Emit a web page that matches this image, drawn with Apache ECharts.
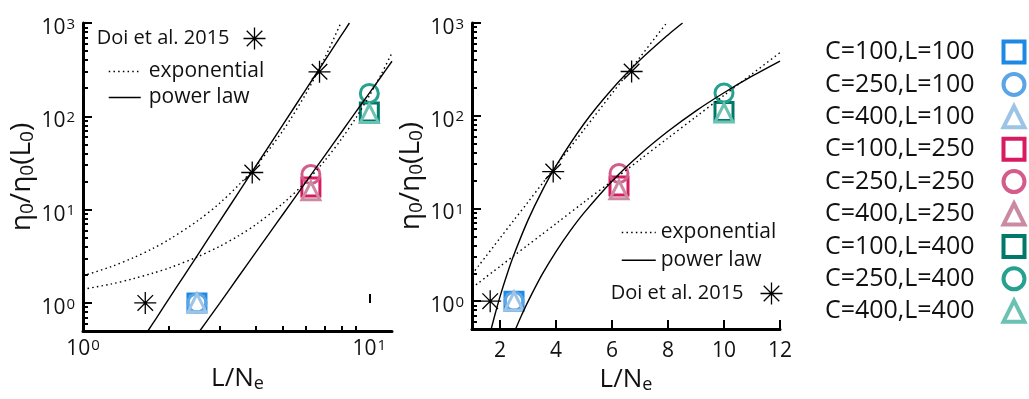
<!DOCTYPE html>
<html><head><meta charset="utf-8">
<script src="https://cdn.jsdelivr.net/npm/echarts@6/dist/echarts.min.js"></script>
<style>html,body{margin:0;padding:0;background:#fff;}#c{width:1029px;height:399px;}</style>
</head><body><div id="c"></div>
<script>
// ---------- data ----------
const doiX = [1.65, 3.9, 6.7];
const doiY = [1.0, 25, 300];

const simX = [2.5, 6.25, 10];          // L/Ne for L = 100, 250, 400
const simC = [100, 250, 400];
const simL = [100, 250, 400];
const simC100 = [1, 17.5, 111];
const simC250 = [1, 23.8, 176];
const simC400 = [1, 15.9, 107];

const doiExpX = [1, 1.25, 1.5, 1.75, 2, 2.5, 3, 3.5, 4, 5, 6, 7, 7.95];
const doiExpY = [1.95, 2.44, 3.05, 3.82, 4.79, 7.5, 11.7, 18.4, 28.8, 70.8, 174, 427, 1000];
const simExpX = [1, 1.25, 1.5, 1.75, 2, 2.5, 3, 3.5, 4, 5, 6, 7, 8, 9, 10, 11, 12];
const simExpY = [1.40, 1.59, 1.82, 2.08, 2.37, 3.10, 4.04, 5.26, 6.86, 11.7, 19.8, 33.7, 57.4, 97.5, 166, 282, 479];
const doiPowX = [1.685, 1.8, 2, 2.25, 2.5, 3, 3.5, 4, 5, 6, 7, 8, 8.52];
const doiPowY = [0.5, 0.68, 1.12, 1.94, 3.18, 7.48, 15.4, 28.8, 82, 193, 398, 744, 1000];
const simPowX = [2.557, 2.75, 3, 3.5, 4, 4.5, 5, 6, 7, 8, 9, 10, 11, 12];
const simPowY = [0.5, 0.684, 0.99, 1.93, 3.43, 5.70, 8.97, 19.7, 38.2, 67.9, 113, 177, 267, 389];

const yMinorTicks = [0.6, 0.7, 0.8, 0.9, 2, 3, 4, 5, 6, 7, 8, 9, 20, 30, 40, 50, 60, 70, 80, 90, 200, 300, 400, 500, 600, 700, 800, 900];
const xLogMajorTicks = [1, 10];
const xLogMinorTicks = [2, 3, 4, 5, 6, 7, 8, 9];
const xLinTicks = [2, 4, 6, 8, 10, 12];

// axis ranges
const Y_MIN = 0.5, Y_MAX = 1000, X_MIN = 1, X_MAX = 12;

// ---------- styling ----------
const FONT = '"Open Sans", sans-serif';
const TXT = '#111';
const simY = [simC100, simC250, simC400];
const SYMS = ['rect', 'circle', 'triangle'];
const COLORS = [
  ['#1E88E5', '#5AA5E6', '#9DC3E6'],
  ['#D81B60', '#D35C8A', '#C98AA2'],
  ['#00796B', '#26A08F', '#6CC2B2']
];
const STAR = 'path://M10,0L10,20M0,10L20,10M2.93,2.93L17.07,17.07M2.93,17.07L17.07,2.93';
const zip = (xs, ys) => xs.map((x, i) => [x, ys[i]]);
const simNames = [];
simL.forEach(L => simC.forEach(C => simNames.push('C=' + C + ',L=' + L)));

function powLabel(v) {
  const e = Math.log10(v), r = Math.round(e);
  if (Math.abs(e - r) > 1e-6) return '';
  return '{b|10}{s|' + r + '}';
}
const powRich = {
  b: { fontSize: 21, fontFamily: FONT, color: TXT, lineHeight: 22, padding: [10, 0, 0, 0] },
  s: { fontSize: 15, fontFamily: FONT, color: TXT, lineHeight: 16, padding: [5, 0, 0, 1], verticalAlign: 'top' }
};
const axisLine = { show: true, onZero: false, lineStyle: { color: '#000', width: 3 } };
const majorTick = { show: true, inside: true, length: 9, lineStyle: { color: '#000', width: 2 } };
const xName = '{n|L/N}{s|e}';
const xNameStyle = { rich: {
  n: { fontSize: 26, fontFamily: FONT, color: TXT, lineHeight: 30 },
  s: { fontSize: 18, fontFamily: FONT, color: TXT, lineHeight: 18, padding: [10, 0, 0, 0] } } };
const yName = '{n|η}{s|0}{n|/η}{s|0}{n|(L}{s|0}{n|)}';
const yNameStyle = { rich: {
  n: { fontSize: 28, fontFamily: FONT, color: TXT, lineHeight: 34 },
  s: { fontSize: 19, fontFamily: FONT, color: TXT, lineHeight: 18, padding: [12, 0, 0, 0] } } };

function yAxisDef(g) {
  return {
    gridIndex: g, type: 'log', logBase: 10, min: Y_MIN, max: Y_MAX,
    axisLine: axisLine, axisTick: majorTick, splitLine: { show: false },
    axisLabel: { formatter: powLabel, rich: powRich, margin: 8 },
    name: yName, nameLocation: 'middle', nameGap: 42, nameTextStyle: yNameStyle
  };
}
// Tick-only overlay axes: a linear axis over the decades of the log axis,
// lying exactly on it, carries the tick marks between the powers of ten.
function tickAxis(g, pos, lo, hi, ticks, len) {
  return {
    gridIndex: g, type: 'value', position: pos, offset: 0,
    min: Math.log10(lo), max: Math.log10(hi),
    axisLine: { show: false }, axisLabel: { show: false }, splitLine: { show: false },
    axisPointer: { show: false }, silent: true,
    axisTick: { show: true, inside: true, length: len, customValues: ticks.map(v => Math.log10(v)),
                lineStyle: { color: '#000', width: 2 } }
  };
}

const series = [];
for (let g = 0; g < 2; g++) {
  simL.forEach((L, j) => simC.forEach((C, i) => {
    series.push({
      type: 'scatter', name: 'C=' + C + ',L=' + L, xAxisIndex: g, yAxisIndex: g,
      data: [[simX[j], simY[i][j]]], symbol: SYMS[i], symbolSize: 18,
      itemStyle: { color: 'none', borderColor: COLORS[j][i], borderWidth: 3, opacity: 1 },
      emphasis: { disabled: true }, z: 2
    });
  }));
  const lineBase = { type: 'line', xAxisIndex: g, yAxisIndex: g, symbol: 'none', smooth: 0.3,
                     emphasis: { disabled: true }, z: 3 };
  const dotted = { color: '#000', width: 1.4, type: [1.5, 3.2] };
  const solid = { color: '#000', width: 1.4 };
  series.push(Object.assign({}, lineBase, { name: 'exponential', data: zip(doiExpX, doiExpY), lineStyle: dotted }));
  series.push(Object.assign({}, lineBase, { name: 'exponential', data: zip(simExpX, simExpY), lineStyle: dotted }));
  series.push(Object.assign({}, lineBase, { name: 'power law', data: zip(doiPowX, doiPowY), lineStyle: solid }));
  series.push(Object.assign({}, lineBase, { name: 'power law', data: zip(simPowX, simPowY), lineStyle: solid }));
  series.push({
    type: 'scatter', name: 'Doi et al. 2015', xAxisIndex: g, yAxisIndex: g,
    data: zip(doiX, doiY), symbol: STAR, symbolSize: 22,
    itemStyle: { color: 'none', borderColor: '#000', borderWidth: 1.3, opacity: 1 },
    emphasis: { disabled: true }, z: 4
  });
}

const legText = (size, pad) => ({ fontFamily: FONT, fontSize: size, color: TXT, padding: pad });

const option = {
  animation: false,
  backgroundColor: '#fff',
  grid: [
    { left: 83, top: 23, width: 309, height: 308 },
    { left: 472, top: 23, width: 308, height: 308 }
  ],
  xAxis: [
    { gridIndex: 0, type: 'log', logBase: 10, min: X_MIN, max: X_MAX, position: 'bottom',
      axisLine: axisLine, axisTick: { show: false }, splitLine: { show: false },
      axisLabel: { formatter: powLabel, rich: powRich, margin: 2 },
      name: xName, nameLocation: 'middle', nameGap: 33, nameTextStyle: xNameStyle },
    { gridIndex: 1, type: 'value', min: X_MIN, max: X_MAX, position: 'bottom',
      axisLine: axisLine, splitLine: { show: false },
      axisTick: Object.assign({ customValues: xLinTicks }, majorTick),
      axisLabel: { customValues: xLinTicks, fontSize: 21, fontFamily: FONT, color: TXT, margin: 11 },
      name: xName, nameLocation: 'middle', nameGap: 33, nameTextStyle: xNameStyle },
    tickAxis(0, 'bottom', X_MIN, X_MAX, xLogMajorTicks, 9),
    tickAxis(0, 'bottom', X_MIN, X_MAX, xLogMinorTicks, 5)
  ],
  yAxis: [
    Object.assign(yAxisDef(0), { position: 'left' }),
    Object.assign(yAxisDef(1), { position: 'left' }),
    tickAxis(0, 'left', Y_MIN, Y_MAX, yMinorTicks, 5),
    tickAxis(1, 'left', Y_MIN, Y_MAX, yMinorTicks, 5)
  ],
  legend: [
    { data: ['Doi et al. 2015'], orient: 'horizontal', align: 'right', right: 761, top: 25, padding: 0,
      itemWidth: 22, itemHeight: 22, selectedMode: false,
      itemStyle: { borderWidth: 1.3 }, textStyle: legText(20, [0, 9, 0, 0]) },
    { data: ['exponential', 'power law'], orient: 'vertical', align: 'left', left: 108, top: 61, padding: 0,
      itemWidth: 32, itemHeight: 14, itemGap: 5, selectedMode: false,
      itemStyle: { opacity: 0 }, lineStyle: { width: 1.5 }, textStyle: legText(21, [0, 0, 0, 3]) },
    { data: ['exponential', 'power law'], orient: 'vertical', align: 'left', left: 621, top: 222, padding: 0,
      itemWidth: 34, itemHeight: 14, itemGap: 6.7, selectedMode: false,
      itemStyle: { opacity: 0 }, lineStyle: { width: 1.5 }, textStyle: legText(21, [0, 0, 0, 0]) },
    { data: ['Doi et al. 2015'], orient: 'horizontal', align: 'right', right: 244, top: 280, padding: 0,
      itemWidth: 22, itemHeight: 22, selectedMode: false,
      itemStyle: { borderWidth: 1.3 }, textStyle: legText(20, [0, 12, 0, 0]) },
    { data: simNames, orient: 'vertical', align: 'right', right: 2, top: 39, padding: 0,
      itemWidth: 21, itemHeight: 21, itemGap: 6.4, selectedMode: false,
      itemStyle: { borderWidth: 4, opacity: 1 }, textStyle: legText(25, [0, 24, 0, 0]) }
  ],
  series: series
};
const chart = echarts.init(document.getElementById('c'));
chart.setOption(option);
</script>
</body></html>
